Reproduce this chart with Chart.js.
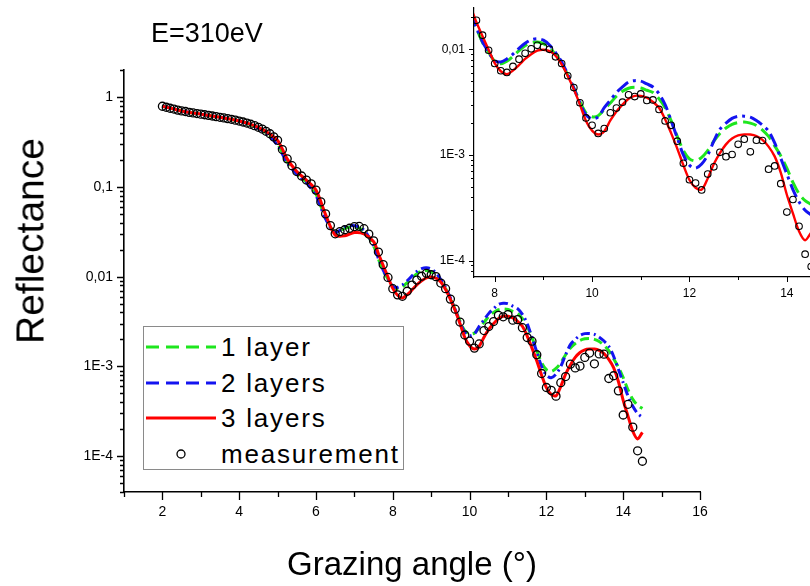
<!DOCTYPE html>
<html>
<head>
<meta charset="utf-8">
<script src="https://cdn.jsdelivr.net/npm/chart.js@4.4.1/dist/chart.umd.min.js"></script>
<style>
  html, body { margin: 0; padding: 0; background: #fff; }
  body { width: 810px; height: 586px; overflow: hidden; position: relative; font-family: 'Liberation Sans', Arial, sans-serif; }
  #main { position: absolute; left: 0; top: 0; }
  #inset { position: absolute; left: 410px; top: 0; }
  #energy { position: absolute; left: 151px; top: 20px; font-size: 27px; line-height: 27px; color: #000; }
  #ytitle { position: absolute; left: 30px; top: 241px; font-size: 39px; line-height: 39px; white-space: nowrap;
            transform: translate(-50%, -50%) rotate(-90deg); color: #000; }
  #legend { position: absolute; left: 143px; top: 326px; width: 259px; height: 142px; border: 1px solid #8a8a8a; background: #fff; }
  .row { position: absolute; left: 0; height: 36px; width: 100%; }
  .row svg { position: absolute; left: 2px; top: 0; }
  .row span { position: absolute; left: 77px; top: 3px; font-size: 26px; line-height: 30px; letter-spacing: 1.8px; white-space: nowrap; }
</style>
</head>
<body>
<canvas id="main" width="810" height="586"></canvas>
<canvas id="inset" width="420" height="300"></canvas>
<div id="energy">E=310eV</div>
<div id="ytitle">Reflectance</div>
<div id="legend"></div>
<script>
// grazing angle grid of the measurement (deg)
const measX = [2.0, 2.1, 2.2, 2.3, 2.4, 2.5, 2.6, 2.7, 2.8, 2.9, 3.0, 3.1, 3.2, 3.3, 3.4, 3.5, 3.6, 3.7, 3.8, 3.9,
  4.0, 4.1, 4.2, 4.3, 4.4, 4.5, 4.6, 4.7, 4.8, 4.9,
  5.0, 5.125, 5.25, 5.375, 5.5, 5.625, 5.75, 5.875, 6.0, 6.125, 6.25, 6.375, 6.5, 6.625, 6.75, 6.875,
  7.0, 7.125, 7.25, 7.375, 7.5, 7.625, 7.75, 7.875, 8.0, 8.125, 8.25, 8.375, 8.5, 8.625, 8.75, 8.875,
  9.0, 9.125, 9.25, 9.375, 9.5, 9.625, 9.75, 9.875, 10.0, 10.125, 10.25, 10.375, 10.5, 10.625, 10.75, 10.875,
  11.0, 11.125, 11.25, 11.375, 11.5, 11.625, 11.75, 11.875, 12.0, 12.125, 12.25, 12.375, 12.5, 12.625, 12.75, 12.875,
  13.0, 13.125, 13.25, 13.375, 13.5, 13.625, 13.75, 13.875, 14.0, 14.125, 14.25, 14.375, 14.5];
const measY = [0.79, 0.77, 0.75, 0.735, 0.715, 0.70, 0.69, 0.675, 0.665, 0.655, 0.645, 0.635, 0.625, 0.615, 0.605, 0.595, 0.585, 0.575, 0.565, 0.553,
  0.54, 0.527, 0.513, 0.498, 0.48, 0.46, 0.44, 0.415, 0.39, 0.36,
  0.33, 0.26, 0.205, 0.172, 0.148, 0.132, 0.119, 0.108, 0.092, 0.068, 0.050, 0.037, 0.030, 0.0318, 0.0333, 0.0346,
  0.036, 0.0362, 0.0342, 0.0298, 0.025, 0.0188, 0.0136, 0.0098, 0.00734, 0.00627, 0.00604, 0.00688, 0.00806, 0.00917, 0.0101, 0.0109,
  0.0105, 0.0100, 0.00848, 0.00734, 0.00562, 0.00434, 0.00312, 0.00224, 0.00191, 0.00160, 0.00178, 0.00251, 0.00278, 0.00316, 0.00371, 0.00357,
  0.00378, 0.00328, 0.00332, 0.00270, 0.00210, 0.00191, 0.00135, 0.000835, 0.000583, 0.000542, 0.000467, 0.000659, 0.000772, 0.00106, 0.000964, 0.00101,
  0.00126, 0.00141, 0.00107, 0.00138, 0.00137, 0.000734, 0.000788, 0.000535, 0.000288, 0.000379, 0.000211, 0.000115, 0.000088];

// grid of the simulated curves (deg)
const modelX = [2.0, 2.25, 2.5, 2.75, 3.0, 3.25, 3.5, 3.75, 4.0, 4.25, 4.5, 4.75, 5.0, 5.25, 5.5, 5.75, 6.0, 6.25, 6.5, 6.75, 7.0, 7.25,
  7.5, 7.625, 7.75, 7.875, 8.0, 8.125, 8.25, 8.375, 8.5, 8.625, 8.75, 8.875,
  9.0, 9.125, 9.25, 9.375, 9.5, 9.625, 9.75, 9.875, 10.0, 10.125, 10.25, 10.375, 10.5, 10.625, 10.75, 10.875,
  11.0, 11.125, 11.25, 11.375, 11.5, 11.625, 11.75, 11.875, 12.0, 12.125, 12.25, 12.375, 12.5, 12.625, 12.75, 12.875,
  13.0, 13.125, 13.25, 13.375, 13.5, 13.625, 13.75, 13.875, 14.0, 14.125, 14.25, 14.375, 14.5];
const oneLayer = [0.79, 0.745, 0.70, 0.67, 0.645, 0.62, 0.595, 0.57, 0.54, 0.50, 0.45, 0.385, 0.30, 0.19, 0.140, 0.113, 0.083, 0.045, 0.031, 0.0345, 0.036, 0.032,
  0.022, 0.0158, 0.0116, 0.0094, 0.0077, 0.0073, 0.0077, 0.0086, 0.0097, 0.0108, 0.0116, 0.0117,
  0.0113, 0.0103, 0.0089, 0.0074, 0.0057, 0.0043, 0.0032, 0.0025, 0.0023, 0.00235, 0.0027, 0.0031, 0.0036, 0.0040, 0.00428, 0.00437,
  0.00430, 0.0041, 0.0039, 0.0034, 0.0028, 0.0021, 0.0015, 0.0011, 0.00092, 0.00088, 0.00095, 0.00110, 0.00135, 0.0016, 0.0018, 0.00195,
  0.00203, 0.00205, 0.00200, 0.00190, 0.00172, 0.00150, 0.00122, 0.00098, 0.00075, 0.00055, 0.00043, 0.00037, 0.00034];
const twoLayers = [0.79, 0.745, 0.70, 0.67, 0.645, 0.62, 0.595, 0.57, 0.54, 0.50, 0.45, 0.38, 0.29, 0.185, 0.138, 0.111, 0.080, 0.044, 0.031, 0.036, 0.037, 0.033,
  0.022, 0.0160, 0.0118, 0.0094, 0.0078, 0.0076, 0.0081, 0.0090, 0.0102, 0.0114, 0.0123, 0.0126,
  0.0122, 0.0110, 0.0093, 0.0076, 0.0058, 0.0043, 0.0031, 0.0024, 0.0022, 0.0023, 0.0028, 0.0033, 0.0039, 0.0044, 0.0049, 0.00505,
  0.0050, 0.0047, 0.0044, 0.0038, 0.0030, 0.0021, 0.00145, 0.00100, 0.00080, 0.00075, 0.00082, 0.00100, 0.00135, 0.00175, 0.0020, 0.00222,
  0.00232, 0.00233, 0.00228, 0.00212, 0.00192, 0.00168, 0.00130, 0.00093, 0.00066, 0.00047, 0.00036, 0.00030, 0.00027];
const threeLayers = [0.79, 0.745, 0.70, 0.67, 0.645, 0.62, 0.595, 0.57, 0.54, 0.505, 0.46, 0.40, 0.33, 0.205, 0.148, 0.119, 0.092, 0.049, 0.029, 0.0285, 0.031, 0.030,
  0.0245, 0.0180, 0.0133, 0.0099, 0.0074, 0.0062, 0.0058, 0.0063, 0.0071, 0.0081, 0.0090, 0.0097,
  0.0099, 0.0096, 0.0087, 0.0072, 0.0056, 0.0042, 0.0030, 0.0021, 0.00170, 0.00156, 0.00168, 0.00212, 0.00258, 0.00300, 0.00340, 0.00362,
  0.00362, 0.00348, 0.00318, 0.00280, 0.00218, 0.00160, 0.00115, 0.00080, 0.00058, 0.00049, 0.00047, 0.00060, 0.00082, 0.00104, 0.00126, 0.00143,
  0.00153, 0.00156, 0.00156, 0.00151, 0.00139, 0.00120, 0.00097, 0.00068, 0.00042, 0.00028, 0.00019, 0.000156, 0.000185];

// decade tick labels
const yDecades = [1, 0.1, 0.01, 1e-3, 1e-4];
const yDecadeLabels = ['1', '0,1', '0,01', '1E-3', '1E-4'];
const seriesNames = ['1 layer', '2 layers', '3 layers', 'measurement'];
const seriesColors = ['#1ee61e', '#1414f0', '#ff0000', '#000000'];

const FONT = "'Liberation Sans', Arial, sans-serif";

function isDecade(v) {
  const l = Math.log10(v);
  return Math.abs(l - Math.round(l)) < 1e-9;
}
function decadeLabel(v) {
  if (!isDecade(v)) return '';
  const i = yDecades.findIndex(d => Math.abs(Math.log10(d) - Math.log10(v)) < 1e-9);
  return i >= 0 ? yDecadeLabels[i] : '';
}
function logTicks(min, max) {
  const out = [];
  for (let e = -6; e <= 1; e++) {
    for (let m = 1; m <= 9; m++) {
      const v = parseFloat((m * Math.pow(10, e)).toPrecision(3));
      if (v >= min * 0.999 && v <= max * 1.001) out.push(v);
    }
  }
  return out;
}
const pts = (xs, ys) => xs.map((x, i) => ({ x: x, y: ys[i] }));

// draws outward tick marks, long at decades / even angles, short elsewhere
const axisTicks = {
  id: 'axisTicks',
  afterDraw(chart, args, o) {
    const ctx = chart.ctx, xs = chart.scales.x, ys = chart.scales.y;
    ctx.save();
    ctx.strokeStyle = '#000';
    ctx.lineWidth = o.width;
    ctx.beginPath();
    ys.ticks.forEach(t => {
      const y = Math.round(ys.getPixelForValue(t.value)) + 0.5;
      const len = isDecade(t.value) ? o.yMajor : o.yMinor;
      ctx.moveTo(ys.right - len, y);
      ctx.lineTo(ys.right, y);
    });
    xs.ticks.forEach(t => {
      const x = Math.round(xs.getPixelForValue(t.value)) + 0.5;
      const len = t.value % 2 === 0 ? o.xMajor : o.xMinor;
      ctx.moveTo(x, xs.top);
      ctx.lineTo(x, xs.top + len);
    });
    ctx.stroke();
    ctx.restore();
  }
};

function makeDatasets(big) {
  return [
    {
      label: seriesNames[3], data: pts(measX, measY), showLine: false,
      pointStyle: 'circle', pointRadius: big ? 4 : 3.3, pointBorderWidth: big ? 1.3 : 1.1,
      pointBorderColor: '#000', pointBackgroundColor: 'rgba(0,0,0,0)'
    },
    {
      label: seriesNames[2], data: pts(modelX, threeLayers), borderColor: seriesColors[2],
      borderWidth: big ? 3 : 2.4, pointRadius: 0, tension: 0.3
    },
    {
      label: seriesNames[1], data: pts(modelX, twoLayers), borderColor: seriesColors[1],
      borderWidth: 3, pointRadius: 0, tension: 0.3, borderDash: big ? [9, 4, 2, 4] : [14, 5, 3, 5]
    },
    {
      label: seriesNames[0], data: pts(modelX, oneLayer), borderColor: seriesColors[0],
      borderWidth: 3, pointRadius: 0, tension: 0.3, borderDash: big ? [9, 5] : [14, 6]
    }
  ];
}

function makeOptions(cfg) {
  return {
    responsive: false,
    animation: false,
    devicePixelRatio: 1,
    layout: { padding: cfg.padding },
    plugins: {
      legend: { display: false },
      tooltip: { enabled: false },
      axisTicks: cfg.ticks
    },
    scales: {
      x: {
        type: 'linear', min: cfg.xMin, max: cfg.xMax,
        afterBuildTicks: s => { s.ticks = cfg.xTicks.map(v => ({ value: v })); },
        afterFit: s => { s.height = cfg.xHeight; s.paddingLeft = 0; s.paddingRight = 0; },
        grid: { display: false, drawTicks: false },
        border: { display: true, color: '#000', width: cfg.axisWidth },
        ticks: {
          autoSkip: false, maxRotation: 0, padding: cfg.xPad, color: '#000',
          font: { family: FONT, size: cfg.xFont },
          callback: v => (v % 2 === 0 ? String(v) : '')
        },
        title: cfg.xTitle ? {
          display: true, text: cfg.xTitle, color: '#000',
          font: { family: FONT, size: 33 }, padding: { top: 0, bottom: 0 }
        } : { display: false }
      },
      y: {
        type: 'logarithmic', min: cfg.yMin, max: cfg.yMax,
        afterBuildTicks: s => { s.ticks = logTicks(cfg.yMin, cfg.yMax).map(v => ({ value: v })); },
        afterFit: s => { s.width = cfg.yWidth; s.paddingTop = 0; s.paddingBottom = 0; },
        grid: { display: false, drawTicks: false },
        border: { display: true, color: '#000', width: cfg.axisWidth },
        ticks: {
          autoSkip: false, padding: cfg.yPad, color: '#000',
          font: { family: FONT, size: cfg.yFont },
          callback: v => decadeLabel(v)
        }
      }
    }
  };
}

new Chart(document.getElementById('main'), {
  type: 'line',
  data: { datasets: makeDatasets(true) },
  options: makeOptions({
    padding: { left: 0, top: 70, right: 110, bottom: 0 },
    xMin: 1, xMax: 16, xTicks: [1, 2, 3, 4, 5, 6, 7, 8, 9, 10, 11, 12, 13, 14, 15, 16],
    yMin: 4e-5, yMax: 2,
    xHeight: 94, yWidth: 124, axisWidth: 1.6,
    xPad: 12, yPad: 11, xFont: 14, yFont: 14,
    xTitle: 'Grazing angle (°)',
    ticks: { width: 1.3, yMajor: 7, yMinor: 4, xMajor: 8, xMinor: 5 }
  }),
  plugins: [axisTicks]
});

// zoomed inset, clipped by the right edge of the page like the original
new Chart(document.getElementById('inset'), {
  type: 'line',
  data: { datasets: makeDatasets(false) },
  options: makeOptions({
    padding: { left: 0, top: 8, right: 11.5, bottom: 0 },
    xMin: 7.575, xMax: 14.65, xTicks: [8, 9, 10, 11, 12, 13, 14],
    yMin: 7.44e-5, yMax: 0.0246,
    xHeight: 23, yWidth: 64, axisWidth: 1.2,
    xPad: 9, yPad: 9, xFont: 12, yFont: 12,
    xTitle: null,
    ticks: { width: 1, yMajor: 5, yMinor: 3, xMajor: 5, xMinor: 3 }
  }),
  plugins: [axisTicks]
});

// legend built from the dataset names and colours
const legend = document.getElementById('legend');
const swatches = [
  '<line x1="0" y1="18" x2="70" y2="18" stroke="' + seriesColors[0] + '" stroke-width="3" stroke-dasharray="13 7"/>',
  '<line x1="0" y1="18" x2="70" y2="18" stroke="' + seriesColors[1] + '" stroke-width="3" stroke-dasharray="13 7"/>',
  '<line x1="0" y1="18" x2="70" y2="18" stroke="' + seriesColors[2] + '" stroke-width="3"/>',
  '<circle cx="35" cy="18" r="4" fill="none" stroke="#000" stroke-width="1.3"/>'
];
seriesNames.forEach((name, i) => {
  const row = document.createElement('div');
  row.className = 'row';
  row.style.top = (2 + i * 35.5) + 'px';
  row.innerHTML = '<svg width="72" height="36">' + swatches[i] + '</svg><span>' + name + '</span>';
  legend.appendChild(row);
});
</script>
</body>
</html>
